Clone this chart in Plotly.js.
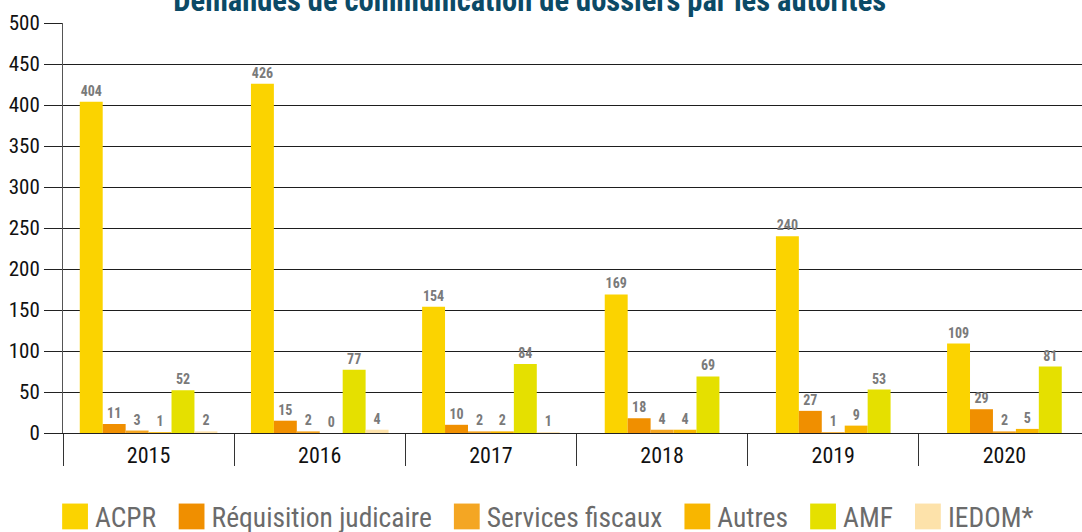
<!DOCTYPE html>
<html>
<head>
<meta charset="utf-8">
<script src="https://cdn.plot.ly/plotly-3.0.1.min.js"></script>
<style>
html,body{margin:0;padding:0;overflow:hidden;background:#fff;}
#chart{width:1090px;height:532px;}
</style>
</head>
<body>
<div id="chart"></div>
<script>
const years = ['2015','2016','2017','2018','2019','2020'];
const seriesNames = ['ACPR','Réquisition judicaire','Services fiscaux','Autres','AMF','IEDOM*'];
const acpr = [404,426,154,169,240,109];
const requisition = [11,15,10,18,27,29];
const services = [3,2,2,4,1,2];
const autres = [1,0,2,4,9,5];
const amf = [52,77,84,69,53,81];
const iedom = [2,4,1,null,null,null];
const seriesValues = [acpr, requisition, services, autres, amf, iedom];
const colors = ['#FBD300','#F08F00','#F4A623','#F8B600','#E5E000','#FDE2AA'];

const FONT = '"Liberation Sans Narrow","Roboto Condensed","DejaVu Sans Condensed",Arial Narrow,sans-serif';
const barW = 0.134;

// offsets: centre the bars that exist in each year
const offsets = seriesValues.map(() => years.map(() => 0));
years.forEach((y, i) => {
  const present = seriesValues.map((s, k) => s[i] != null ? k : -1).filter(k => k >= 0);
  const n = present.length;
  present.forEach((k, j) => { offsets[k][i] = -n * barW / 2 + j * barW; });
});

const traces = seriesValues.map((vals, k) => ({
  type: 'bar',
  name: seriesNames[k],
  x: years,
  y: vals,
  width: barW,
  offset: offsets[k],
  marker: {color: colors[k], line: {width: 0}},
  text: vals.map(v => v == null ? '' : String(v)),
  textposition: 'outside',
  textfont: {family: FONT, size: 14, color: '#7a7a7a', weight: 'bold'},
  cliponaxis: false,
  hoverinfo: 'none'
}));

// invisible helper for category boundary ticks
traces.push({
  type: 'scatter', x: [-0.5, years.length - 0.5], y: [0, 0], xaxis: 'x2', yaxis: 'y',
  mode: 'lines', line: {width: 0, color: 'rgba(0,0,0,0)'}, showlegend: false, hoverinfo: 'none'
});

const boundaries = years.map((_, i) => i - 0.5);

const layout = {
  width: 1090, height: 532,
  margin: {l: 63, r: 0, t: 23, b: 99},
  paper_bgcolor: '#fff', plot_bgcolor: '#fff',
  barmode: 'overlay',
  showlegend: true,
  title: {
    text: 'Demandes de communication de dossiers par les autorités',
    font: {family: FONT, size: 30.5, color: '#0B4A66', weight: 'bold'},
    xref: 'container', x: 0.486, xanchor: 'center',
    yref: 'container', y: 1.0, yanchor: 'middle'
  },
  xaxis: {
    type: 'category', range: [-0.5, years.length - 0.5],
    showgrid: false, ticks: '', showline: true, linecolor: '#222', linewidth: 1,
    tickfont: {family: FONT, size: 22, color: '#111'}, ticklabelstandoff: 3,
    fixedrange: true
  },
  xaxis2: {
    overlaying: 'x', anchor: 'y', side: 'bottom', range: [-0.5, years.length - 0.5],
    showgrid: false, showline: false, showticklabels: false, zeroline: false,
    tickmode: 'array', tickvals: boundaries, ticks: 'outside', ticklen: 32, tickwidth: 1, tickcolor: '#333'
  },
  yaxis: {
    range: [0, 500], dtick: 50, tick0: 0,
    showgrid: true, gridcolor: '#1e1e1e', gridwidth: 1,
    showline: true, linecolor: '#555', linewidth: 1,
    ticks: 'outside', ticklen: 18, tickcolor: '#222', tickwidth: 1,
    tickfont: {family: FONT, size: 21, color: '#111'},
    zeroline: false, fixedrange: true
  },
  legend: {
    orientation: 'h', xref: 'container', x: 0.0505, xanchor: 'left',
    yref: 'container', y: 0.029, yanchor: 'middle',
    font: {family: FONT, size: 27.5, color: '#6b6b6b'},
    bgcolor: 'rgba(0,0,0,0)', traceorder: 'normal'
  }
};

Plotly.newPlot('chart', traces, layout, {staticPlot: true, displayModeBar: false}).then(() => {
  // larger legend swatches
  document.querySelectorAll('.legendpoints path').forEach(p => {
    const t = p.getAttribute('transform') || '';
    p.setAttribute('transform', t + ' scale(2.15)');
  });
  // wider spacing between legend entries
  const extraGap = 10;
  document.querySelectorAll('.legend .traces').forEach((g, i) => {
    const t = g.getAttribute('transform') || '';
    const m = t.match(/translate\(\s*([-\d.e]+)[ ,]+([-\d.e]+)\s*\)/);
    if (m) {
      g.setAttribute('transform', 'translate(' + (parseFloat(m[1]) + extraGap * i) + ',' + m[2] + ')');
    }
  });
  // do not clip the widened legend
  document.querySelectorAll('.legend .scrollbox, .legend').forEach(s => s.removeAttribute('clip-path'));
});
</script>
</body>
</html>
